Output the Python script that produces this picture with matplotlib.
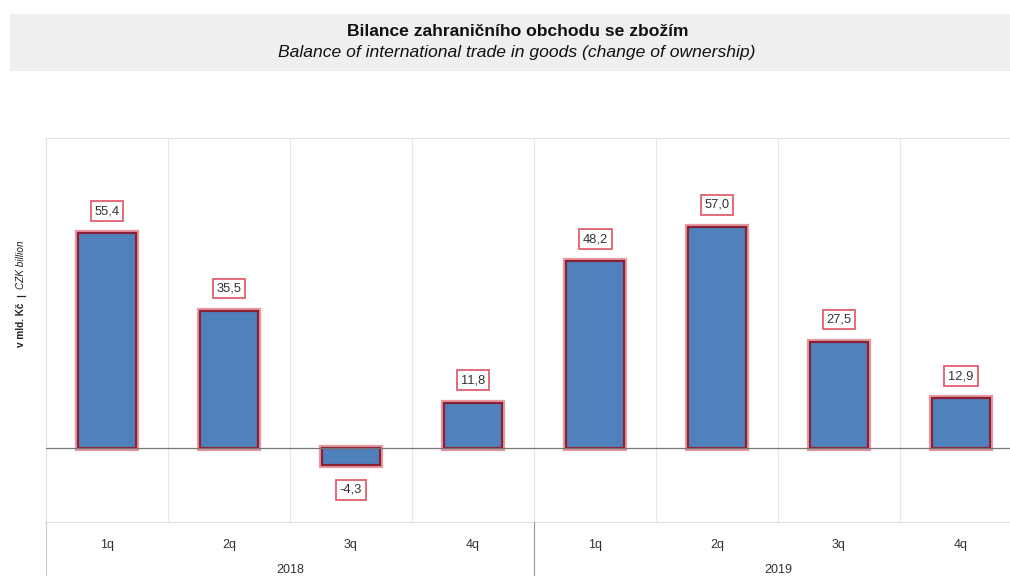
import numpy as np
import matplotlib
matplotlib.use('Agg')
import matplotlib.pyplot as plt
from matplotlib.patches import Rectangle
from matplotlib.lines import Line2D

plt.rcParams['font.family'] = ['Liberation Sans', 'DejaVu Sans']

quarters = ['1q', '2q', '3q', '4q', '1q', '2q', '3q', '4q']
years = ['2018', '2019']
values = [55.4, 35.5, -4.3, 11.8, 48.2, 57.0, 27.5, 12.9]
labels = ['55,4', '35,5', '-4,3', '11,8', '48,2', '57,0', '27,5', '12,9']

fig = plt.figure(figsize=(10.1, 5.76), dpi=100)
W, H = 1010, 576

# title box
fig.patches.append(Rectangle((10 / W, 1 - 71 / H), 1000 / W, 57 / H,
                             transform=fig.transFigure, facecolor='#efefef',
                             edgecolor='none', zorder=0))
fig.text(518 / W, 1 - 32 / H, 'Bilance zahraničního obchodu se zbožím',
         ha='center', va='center', fontsize=12.6, fontweight='bold', color='#111111')
fig.text(517 / W, 1 - 53 / H, 'Balance of international trade in goods (change of ownership)',
         ha='center', va='center', fontsize=12.6, fontstyle='italic', color='#111111')

ax = fig.add_axes([46 / W, 1 - 522 / H, 976 / W, 384 / H])
x = np.arange(len(values))

ax.bar(x, values, width=0.48, color='#4f81bd', edgecolor='#e89aa0', linewidth=4.5, zorder=3)
ax.bar(x, values, width=0.48, color='#4f81bd', edgecolor='#8c2035', linewidth=1.6, zorder=4)

for xi, v, lab in zip(x, values, labels):
    off = 16 if v >= 0 else -18
    ax.annotate(lab, (xi, v), xytext=(0, off), textcoords='offset points',
                ha='center', va='center', fontsize=9.3, color='#333333', zorder=6,
                bbox=dict(boxstyle='square,pad=0.3', facecolor='white',
                          edgecolor='#e06070', linewidth=1.3))

ax.set_xlim(-0.5, 7.5)
ax.set_ylim(-19, 80)
ax.axhline(0, color='#777777', linewidth=0.9, zorder=5)
for b in np.arange(0.5, 7.5, 1):
    ax.axvline(b, color='#e6e6e6', linewidth=0.8, zorder=1)

for s in ['top', 'left', 'bottom', 'right']:
    ax.spines[s].set_color('#e0e0e0')
ax.set_xticks([])
ax.set_yticks([])

# category axis
for xi, q in zip(x, quarters):
    fig.text((46 + 122 * (xi + 0.5)) / W, 1 - 545 / H, q, ha='center', va='center',
             fontsize=9, color='#333333')
for i, yr in enumerate(years):
    fig.text((46 + 488 * (i + 0.5)) / W, 1 - 570 / H, yr, ha='center', va='center',
             fontsize=9, color='#333333')
fig.lines.append(Line2D([46 / W, 46 / W], [0, 1 - 522 / H], transform=fig.transFigure,
                        color='#cccccc', linewidth=0.8))
fig.lines.append(Line2D([534 / W, 534 / W], [0, 1 - 522 / H], transform=fig.transFigure,
                        color='#999999', linewidth=0.8))

# y axis label
fig.text(21 / W, 1 - 325 / H, 'v mld. Kč', rotation=90, ha='center', va='center',
         fontsize=7.2, fontweight='bold', color='#222222')
fig.lines.append(Line2D([17 / W, 25 / W], [1 - 296 / H, 1 - 296 / H], transform=fig.transFigure,
                        color='#222222', linewidth=0.9))
fig.text(21 / W, 1 - 265 / H, 'CZK billion', rotation=90, ha='center', va='center',
         fontsize=7.2, fontstyle='italic', color='#222222')

fig.savefig('out.png', dpi=100)
